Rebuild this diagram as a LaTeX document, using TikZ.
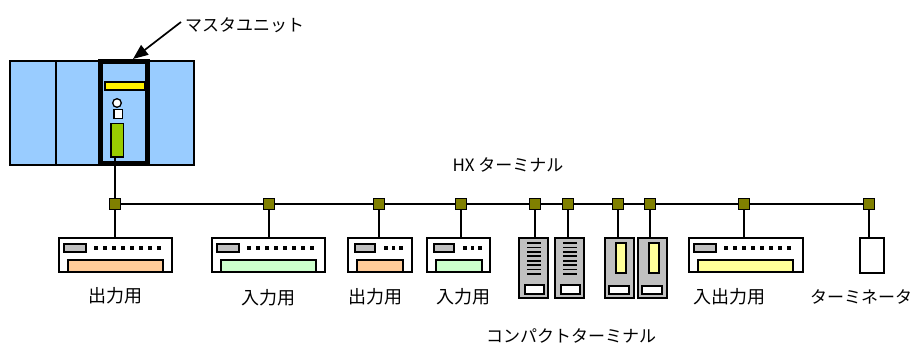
\documentclass[tikz,border=0pt]{standalone}
\usepackage{fontspec}
\setmainfont{Noto Sans CJK JP}
\usetikzlibrary{arrows.meta}
\definecolor{rackblue}{HTML}{99CCFF}
\definecolor{juncolive}{HTML}{808000}
\definecolor{outbar}{HTML}{FFCC99}
\definecolor{inbar}{HTML}{CCFFCC}
\definecolor{iobar}{HTML}{FFFF99}
\definecolor{panel}{HTML}{C0C0C0}
\definecolor{ledgreen}{HTML}{99CC00}
\begin{document}
\begin{tikzpicture}[x=1pt,y=-1pt,line join=miter,
  wire/.style={line width=1.5pt},
  part/.style={draw,line width=1.5pt},
  jbox/.style={draw,line width=1.3pt,fill=juncolive,minimum size=11pt,inner sep=0pt},
  devbox/.style={draw,line width=1.8pt,fill=white,inner sep=0pt,outer sep=0pt},
  cmpbox/.style={devbox,fill=panel,minimum width=29pt,minimum height=60pt},
  lbl/.style={font=\fontsize{17}{19}\selectfont,inner sep=0pt},
  klbl/.style={font=\fontsize{18}{20}\selectfont,inner sep=0pt},
  % face of a wide I/O unit; origin = top-left corner
  bigface/.pic={
    \draw[part,fill=panel] (5,6) rectangle (27,14);
    \foreach \k in {0,...,7} \fill (35+9*\k,8.3) rectangle +(3.6,3.6);
    \draw[part,fill=#1] (9,22) rectangle (104,34);
  },
  % face of a narrow I/O unit
  smallface/.pic={
    \draw[part,fill=panel] (7,6) rectangle (27,14);
    \foreach \k in {0,1,2} \fill (36+7.7*\k,8.3) rectangle +(3.6,3.6);
    \draw[part,fill=#1] (9,22) rectangle (55,34);
  },
  % compact terminal with slot lines
  slotface/.pic={
    \foreach \k in {0,...,7} \draw[line width=1.7pt] (8,5+4.43*\k) -- (22,5+4.43*\k);
    \draw[part,fill=white] (6,47) rectangle (25,56);
  },
  % compact terminal with indicator window
  ledface/.pic={
    \draw[part,fill=iobar] (11,5) rectangle (21,35);
    \draw[part,fill=white] (4,48) rectangle (24,56);
  },
]
\useasboundingbox (0,0) rectangle (912,345);

% PLC rack
\draw[line width=1.4pt,fill=rackblue] (10,61) rectangle (194,165);
\draw[line width=1.4pt] (56,61) -- (56,165);

% master unit
\node[draw,line width=5pt,fill=rackblue,minimum width=47pt,minimum height=102pt,inner sep=0pt] (master) at (124,112.5) {};
\draw[part,fill=yellow] (105,82) rectangle (145,90);
\draw[line width=1.3pt,fill=white] (117,103) circle (4.3);
\draw[line width=1.3pt,fill=white] (114,109.5) rectangle (122.5,118.5);
\node[draw,line width=1.5pt,fill=ledgreen,minimum width=12.5pt,minimum height=33.5pt,inner sep=0pt,outer sep=0pt] (port) at (117,140) {};

% labels
\node[lbl,anchor=west] (mlabel) at (185,25) {マスタユニット};
\draw[line width=1.7pt,-{Triangle[length=15pt,width=12pt]}] ([xshift=-4pt,yshift=3pt]mlabel.west) -- ([xshift=9pt]master.north);
\node[lbl] (hx) at (508,165) {HX ターミナル};

% bus junctions
\foreach \n/\x in {1/115,2/269,3/379,4/461,5/535,6/568,7/618,8/650,9/744,10/869}
  \node[jbox] (j\n) at (\x,204) {};
\foreach \a/\b in {1/2,2/3,3/4,4/5,5/6,6/7,7/8,8/9,9/10}
  \draw[wire] (j\a) -- (j\b);
\draw[wire] (j1) -- (j1 |- port.south);

% I/O units
\node[devbox,minimum width=113pt,minimum height=34pt] (d1) at (115.5,255) {};
\pic at (d1.north west) {bigface=outbar};
\node[devbox,minimum width=113pt,minimum height=34pt] (d2) at (268.5,255) {};
\pic at (d2.north west) {bigface=inbar};
\node[devbox,minimum width=64pt,minimum height=34pt] (d3) at (380,255) {};
\pic at (d3.north west) {smallface=outbar};
\node[devbox,minimum width=63pt,minimum height=34pt] (d4) at (458.5,255) {};
\pic at (d4.north west) {smallface=inbar};
\node[cmpbox] (c1) at (533.5,268) {};
\pic at (c1.north west) {slotface};
\node[cmpbox] (c2) at (569.5,268) {};
\pic at (c2.north west) {slotface};
\node[cmpbox] (c3) at (619.5,268) {};
\pic at (c3.north west) {ledface};
\node[cmpbox] (c4) at (652.5,268) {};
\pic at (c4.north west) {ledface};
\node[devbox,minimum width=114pt,minimum height=34pt] (d5) at (746,255) {};
\pic at (d5.north west) {bigface=iobar};
\node[devbox,minimum width=24pt,minimum height=35pt] (term) at (872,255.5) {};

% drops from the bus
\draw[wire] (j1) -- (j1 |- d1.north);
\draw[wire] (j2) -- (j2 |- d2.north);
\draw[wire] (j3) -- (j3 |- d3.north);
\draw[wire] (j4) -- (j4 |- d4.north);
\draw[wire] (j5) -- (j5 |- c1.north);
\draw[wire] (j6) -- (j6 |- c2.north);
\draw[wire] (j7) -- (j7 |- c3.north);
\draw[wire] (j8) -- (j8 |- c4.north);
\draw[wire] (j9) -- (j9 |- d5.north);
\draw[wire] (j10) -- (j10 |- term.north);

% unit captions
\node[klbl] (l1) at (115,296) {出力用};
\node[klbl] (l2) at (268,298) {入力用};
\node[klbl] (l3) at (375,297) {出力用};
\node[klbl] (l4) at (463,297) {入力用};
\node[lbl] (l5) at (571,336) {コンパクトターミナル};
\node[klbl] (l6) at (729,297) {入出力用};
\node[lbl] (l7) at (861,297) {ターミネータ};
\end{tikzpicture}
\end{document}
